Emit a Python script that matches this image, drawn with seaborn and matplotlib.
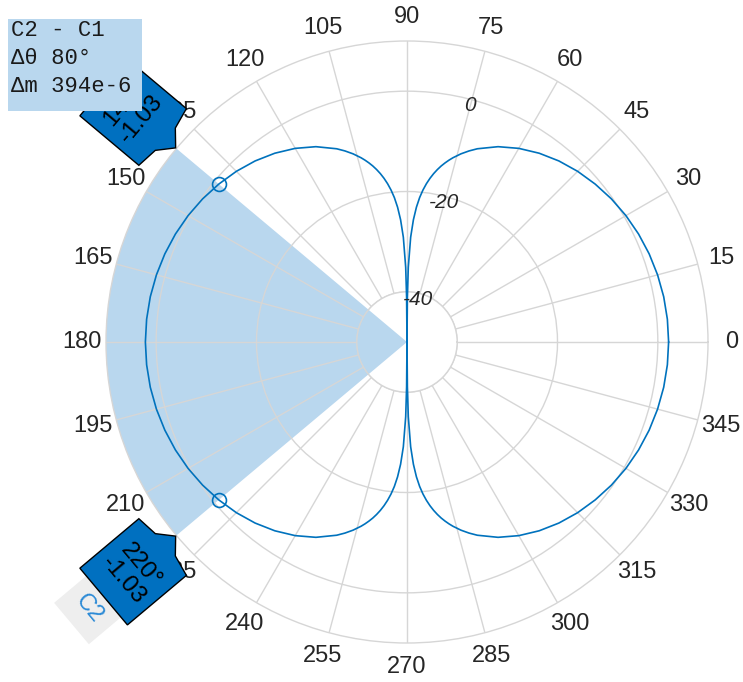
import numpy as np
import matplotlib
matplotlib.use('Agg')
import matplotlib.pyplot as plt
import matplotlib.transforms as mtransforms
from matplotlib.patches import Polygon, Rectangle
import seaborn as sns

# pattern (dB vs azimuth in degrees)
angles = [0, 5, 10, 15, 20, 25, 30, 35, 40, 45, 50, 55, 60, 65, 70, 72, 74, 76, 77, 78, 79, 80,
          81, 82, 83, 84, 85, 86, 87, 88, 89, 89.5, 90,
          90.5, 91, 92, 93, 94, 95, 96, 97, 98, 99, 100, 101, 102, 103, 104, 106, 108, 110,
          115, 120, 125, 130, 135, 140, 145, 150, 155, 160, 165, 170, 175, 180,
          185, 190, 195, 200, 205, 210, 215, 220, 225, 230, 235, 240, 245, 250, 252, 254, 256, 257, 258, 259, 260,
          261, 262, 263, 264, 265, 266, 267, 268, 269, 269.5, 270,
          270.5, 271, 272, 273, 274, 275, 276, 277, 278, 279, 280, 281, 282, 283, 284, 286, 288, 290,
          295, 300, 305, 310, 315, 320, 325, 330, 335, 340, 345, 350, 355, 360]
gain_db = [2.15, 2.10, 1.96, 1.71, 1.37, 0.93, 0.39, -0.26, -1.03, -1.89, -2.89, -4.06, -5.43, -7.04, -9.01,
           -9.95, -10.98, -12.15, -12.80, -13.50, -14.25, -15.09,
           -16.01, -17.04, -18.20, -19.53, -21.1, -23.06, -25.6, -29.1, -35.1, -41.1, -50,
           -41.1, -35.1, -29.1, -25.6, -23.06, -21.1, -19.53, -18.20, -17.04, -16.01, -15.09, -14.25, -13.50,
           -12.80, -12.15, -10.98, -9.95, -9.01,
           -7.04, -5.43, -4.06, -2.89, -1.89, -1.03, -0.26, 0.39, 0.93, 1.37, 1.71, 1.96, 2.10, 2.15,
           2.10, 1.96, 1.71, 1.37, 0.93, 0.39, -0.26, -1.03, -1.89, -2.89, -4.06, -5.43, -7.04, -9.01,
           -9.95, -10.98, -12.15, -12.80, -13.50, -14.25, -15.09,
           -16.01, -17.04, -18.20, -19.53, -21.1, -23.06, -25.6, -29.1, -35.1, -41.1, -50,
           -41.1, -35.1, -29.1, -25.6, -23.06, -21.1, -19.53, -18.20, -17.04, -16.01, -15.09, -14.25, -13.50,
           -12.80, -12.15, -10.98, -9.95, -9.01,
           -7.04, -5.43, -4.06, -2.89, -1.89, -1.03, -0.26, 0.39, 0.93, 1.37, 1.71, 1.96, 2.10, 2.15]

cursor_names = ['C1', 'C2']
cursor_angles = [140, 220]
cursor_values = [-1.03, -1.03]
delta_lines = ['C2 - C1', 'Δθ 80°', 'Δm 394e-6']

theta_ticks = list(range(0, 360, 15))
r_ticks = [-40, -20, 0]
r_floor, r_min, r_max = -50, -40, 10

blue = '#0072BD'
light_blue = '#b9d7ee'
grid_col = '#d6d6d6'
text_col = '#262626'

sns.set_theme(style='white')
plt.rcParams['font.family'] = ['Liberation Sans', 'DejaVu Sans']

fig = plt.figure(figsize=(7.43, 6.82), dpi=100)
ax = fig.add_axes([0.14266, 0.05718, 0.81023, 0.88270], projection='polar')

# shaded span between the two cursors
span = np.deg2rad(cursor_angles[1] - cursor_angles[0])
mid = np.deg2rad((cursor_angles[0] + cursor_angles[1]) / 2)
ax.bar(mid, r_max - r_floor, width=span, bottom=r_floor, color=light_blue,
       linewidth=0, zorder=0.2, clip_on=False)

sns.lineplot(x=np.deg2rad(angles), y=gain_db, ax=ax, color=blue, lw=1.2,
             sort=False, clip_on=False, zorder=3)
ax.plot(np.deg2rad(cursor_angles), cursor_values, 'o', mfc='none', mec=blue,
        ms=10, mew=1.2, zorder=4)

ax.set_rorigin(r_floor)
ax.set_rlim(r_min, r_max)
ax.set_xticks(np.deg2rad(theta_ticks))
ax.set_xticklabels([])
ax.set_yticks(r_ticks)
ax.set_yticklabels([])
ax.tick_params(length=0)
ax.set_xlabel('')
ax.set_ylabel('')
ax.grid(True, color=grid_col, lw=1)
for name in ['polar', 'inner']:
    ax.spines[name].set_color(grid_col)
    ax.spines[name].set_linewidth(1)

for a in theta_ticks:
    ax.text(np.deg2rad(a), r_max + 4.8, str(a), ha='center', va='center',
            fontsize=17, color=text_col)
for r in r_ticks:
    ax.text(np.deg2rad(75), r - 1.2, str(r), ha='center', va='center',
            fontsize=15, style='italic', color=text_col)

# cursor tags, built in pixel space around the outer ring
px = mtransforms.IdentityTransform()
tag_shape = [(-37, 18), (-15, 15), (0, 1), (15, 14), (37, 18), (37, 95), (-37, 95)]
label_box = [(-27, 93), (27, 93), (27, 137), (-27, 137)]
for name, ang, val in zip(cursor_names, cursor_angles, cursor_values):
    p = ax.transData.transform((np.deg2rad(ang), r_max))
    u = np.array([np.cos(np.deg2rad(ang)), np.sin(np.deg2rad(ang))])
    rot = ang - 90 if ang < 180 else ang - 270
    t = np.array([np.cos(np.deg2rad(rot)), np.sin(np.deg2rad(rot))])

    box = [p + a * t + b * u for a, b in label_box]
    fig.add_artist(Polygon(box, closed=True, facecolor='#eeeeee', edgecolor='none',
                           transform=px, zorder=4))
    c = p + 114 * u
    fig.text(c[0], c[1], name, transform=px, rotation=rot, rotation_mode='anchor',
             ha='center', va='center', fontsize=17, color='#2b8ad6', zorder=4.5)

    verts = [p + a * t + b * u for a, b in tag_shape]
    fig.add_artist(Polygon(verts, closed=True, facecolor='#0070c0', edgecolor='black',
                           lw=1, transform=px, zorder=5))
    c = p + 58 * u
    fig.text(c[0], c[1], f'{ang}°\n{val:.2f}', transform=px, rotation=rot,
             rotation_mode='anchor', ha='center', va='center', multialignment='center',
             fontsize=17.5, linespacing=1.05, color='black', zorder=5.5)

# delta readout
H = 682
fig.add_artist(Rectangle((8, H - 111), 134, 92, facecolor=light_blue, edgecolor='none',
                         transform=px, zorder=6))
for i, line in enumerate(delta_lines):
    fig.text(11, H - 31 - 28 * i, line, transform=px, ha='left', va='center',
             family=['Liberation Mono', 'DejaVu Sans Mono'], fontsize=16,
             color='#1a1a1a', zorder=7)

fig.savefig('out.png', dpi=100)
